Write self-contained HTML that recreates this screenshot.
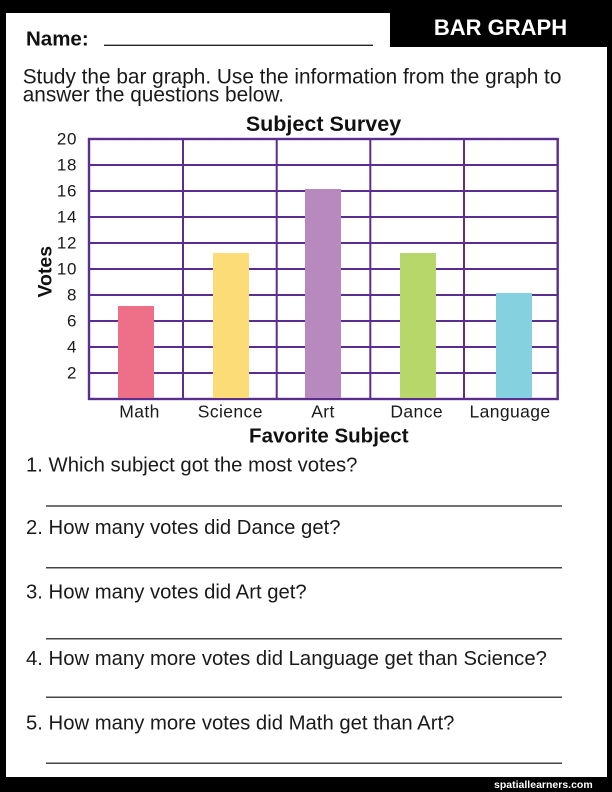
<!DOCTYPE html>
<html>
<head>
<meta charset="utf-8">
<style>
  html,body{margin:0;padding:0;background:#000;}
  body{width:612px;height:792px;overflow:hidden;}
  svg{display:block;}
  text{font-family:"Liberation Sans", Arial, sans-serif;}
</style>
</head>
<body>
<svg width="612" height="792" viewBox="0 0 612 792" xmlns="http://www.w3.org/2000/svg">
  <!-- frame -->
  <rect x="0" y="0" width="612" height="792" fill="#000"/>
  <rect x="6" y="13" width="601" height="764" fill="#fff"/>
  <rect x="390" y="0" width="222" height="47" fill="#000"/>
  <text x="500.5" y="35" font-size="22" font-weight="bold" fill="#fff" text-anchor="middle">BAR GRAPH</text>

  <!-- name -->
  <text x="26" y="45.7" font-size="20.5" font-weight="bold" fill="#111">Name:</text>
  <line x1="104" y1="45.3" x2="373" y2="45.3" stroke="#222" stroke-width="1.3"/>

  <!-- instructions -->
  <text x="22.7" y="83.3" font-size="20.8" fill="#1a1a1a">Study the bar graph. Use the information from the graph to</text>
  <text x="22.7" y="101.7" font-size="20.8" fill="#1a1a1a">answer the questions below.</text>

  <!-- chart title -->
  <text x="323.5" y="131" font-size="21.5" font-weight="bold" fill="#111" text-anchor="middle">Subject Survey</text>

  <!-- grid -->
  <g stroke="#5C2D91" stroke-width="2" fill="none">
    <line x1="89" y1="165" x2="557.7" y2="165"/>
    <line x1="89" y1="191" x2="557.7" y2="191"/>
    <line x1="89" y1="217" x2="557.7" y2="217"/>
    <line x1="89" y1="243" x2="557.7" y2="243"/>
    <line x1="89" y1="269" x2="557.7" y2="269"/>
    <line x1="89" y1="295" x2="557.7" y2="295"/>
    <line x1="89" y1="321" x2="557.7" y2="321"/>
    <line x1="89" y1="347" x2="557.7" y2="347"/>
    <line x1="89" y1="373" x2="557.7" y2="373"/>
    <line x1="183" y1="139" x2="183" y2="399"/>
    <line x1="276.7" y1="139" x2="276.7" y2="399"/>
    <line x1="370.3" y1="139" x2="370.3" y2="399"/>
    <line x1="464" y1="139" x2="464" y2="399"/>
    <rect x="89" y="139" width="468.7" height="260" stroke-width="2.4"/>
  </g>

  <!-- bars -->
  <rect x="118" y="306" width="36" height="92" fill="#EE6F88"/>
  <rect x="213" y="253" width="36" height="145" fill="#FCDC76"/>
  <rect x="305" y="189" width="36" height="209" fill="#B889BF"/>
  <rect x="400" y="253" width="36" height="145" fill="#B7D76A"/>
  <rect x="496" y="293" width="36" height="105" fill="#86D1E0"/>

  <!-- y tick labels -->
  <g font-size="17" fill="#1a1a1a" text-anchor="end" letter-spacing="0.6">
    <text x="77" y="144.5">20</text>
    <text x="77" y="170.5">18</text>
    <text x="77" y="196.5">16</text>
    <text x="77" y="222.5">14</text>
    <text x="77" y="248.5">12</text>
    <text x="77" y="274.5">10</text>
    <text x="77" y="300.5">8</text>
    <text x="77" y="326.5">6</text>
    <text x="77" y="352.5">4</text>
    <text x="77" y="378.5">2</text>
  </g>

  <!-- y axis title -->
  <text transform="translate(51.5,271.7) rotate(-90)" x="0" y="0" font-size="19.5" font-weight="bold" fill="#111" text-anchor="middle">Votes</text>

  <!-- x labels -->
  <g font-size="17.5" fill="#1a1a1a" text-anchor="middle" letter-spacing="0.4">
    <text x="139.5" y="417.7">Math</text>
    <text x="230.3" y="417.7">Science</text>
    <text x="323" y="417.7">Art</text>
    <text x="416.7" y="417.7">Dance</text>
    <text x="510" y="417.7">Language</text>
  </g>
  <text x="328.8" y="442.7" font-size="20.5" font-weight="bold" fill="#111" text-anchor="middle">Favorite Subject</text>

  <!-- questions -->
  <g font-size="20.3" fill="#1a1a1a">
    <text x="26" y="471.7">1. Which subject got the most votes?</text>
    <text x="26" y="534">2. How many votes did Dance get?</text>
    <text x="26" y="598.3">3. How many votes did Art get?</text>
    <text x="26" y="665">4. How many more votes did Language get than Science?</text>
    <text x="26" y="729.3">5. How many more votes did Math get than Art?</text>
  </g>
  <g stroke="#444" stroke-width="1.5">
    <line x1="46" y1="506" x2="562" y2="506"/>
    <line x1="46" y1="567.7" x2="562" y2="567.7"/>
    <line x1="46" y1="638.7" x2="562" y2="638.7"/>
    <line x1="46" y1="697.3" x2="562" y2="697.3"/>
    <line x1="46" y1="763.3" x2="562" y2="763.3"/>
  </g>

  <!-- footer -->
  <text x="592.7" y="788" font-size="10.5" font-weight="bold" fill="#fff" text-anchor="end">spatiallearners.com</text>
</svg>
</body>
</html>
